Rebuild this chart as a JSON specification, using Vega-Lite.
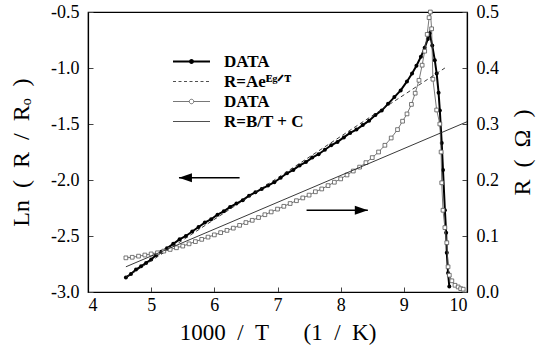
{
  "$schema": "https://vega.github.io/schema/vega-lite/v6.json",
  "width": 379,
  "height": 280,
  "autosize": {"type": "none"},
  "padding": {"left": 88, "top": 12, "right": 81, "bottom": 66},
  "background": "white",
  "config": {
    "font": "Liberation Serif",
    "view": {"stroke": "#000", "strokeWidth": 1.2},
    "axis": {
      "grid": false,
      "domainColor": "#000",
      "domainWidth": 1.2,
      "tickColor": "#444",
      "tickSize": -5,
      "labelColor": "#000",
      "labelFont": "Liberation Serif",
      "labelFontSize": 18,
      "titleFont": "Liberation Serif",
      "titleFontWeight": "normal",
      "titleColor": "#000"
    }
  },
  "data": {
    "values": [
      {"s": "d1", "x": 4.60, "v": -2.87}, {"s": "d1", "x": 4.68, "v": -2.84}, {"s": "d1", "x": 4.76, "v": -2.80},
      {"s": "d1", "x": 4.84, "v": -2.77}, {"s": "d1", "x": 4.92, "v": -2.74}, {"s": "d1", "x": 5.00, "v": -2.71},
      {"s": "d1", "x": 5.08, "v": -2.67}, {"s": "d1", "x": 5.16, "v": -2.64}, {"s": "d1", "x": 5.25, "v": -2.61},
      {"s": "d1", "x": 5.35, "v": -2.57}, {"s": "d1", "x": 5.45, "v": -2.53}, {"s": "d1", "x": 5.55, "v": -2.50},
      {"s": "d1", "x": 5.65, "v": -2.46}, {"s": "d1", "x": 5.75, "v": -2.42}, {"s": "d1", "x": 5.85, "v": -2.38},
      {"s": "d1", "x": 5.95, "v": -2.35}, {"s": "d1", "x": 6.05, "v": -2.31}, {"s": "d1", "x": 6.15, "v": -2.28},
      {"s": "d1", "x": 6.25, "v": -2.24}, {"s": "d1", "x": 6.35, "v": -2.21}, {"s": "d1", "x": 6.45, "v": -2.18},
      {"s": "d1", "x": 6.55, "v": -2.14}, {"s": "d1", "x": 6.65, "v": -2.11}, {"s": "d1", "x": 6.75, "v": -2.08},
      {"s": "d1", "x": 6.85, "v": -2.05}, {"s": "d1", "x": 6.95, "v": -2.02}, {"s": "d1", "x": 7.05, "v": -1.98},
      {"s": "d1", "x": 7.15, "v": -1.94}, {"s": "d1", "x": 7.25, "v": -1.91}, {"s": "d1", "x": 7.35, "v": -1.87},
      {"s": "d1", "x": 7.45, "v": -1.84}, {"s": "d1", "x": 7.55, "v": -1.80}, {"s": "d1", "x": 7.65, "v": -1.77},
      {"s": "d1", "x": 7.75, "v": -1.73}, {"s": "d1", "x": 7.85, "v": -1.69}, {"s": "d1", "x": 7.95, "v": -1.66},
      {"s": "d1", "x": 8.05, "v": -1.62}, {"s": "d1", "x": 8.15, "v": -1.58}, {"s": "d1", "x": 8.25, "v": -1.55},
      {"s": "d1", "x": 8.35, "v": -1.51}, {"s": "d1", "x": 8.45, "v": -1.47}, {"s": "d1", "x": 8.55, "v": -1.42},
      {"s": "d1", "x": 8.65, "v": -1.38}, {"s": "d1", "x": 8.75, "v": -1.32}, {"s": "d1", "x": 8.85, "v": -1.26},
      {"s": "d1", "x": 8.95, "v": -1.20}, {"s": "d1", "x": 9.05, "v": -1.12}, {"s": "d1", "x": 9.13, "v": -1.05},
      {"s": "d1", "x": 9.20, "v": -0.98}, {"s": "d1", "x": 9.27, "v": -0.90}, {"s": "d1", "x": 9.33, "v": -0.82},
      {"s": "d1", "x": 9.38, "v": -0.74}, {"s": "d1", "x": 9.41, "v": -0.69}, {"s": "d1", "x": 9.45, "v": -0.80},
      {"s": "d1", "x": 9.49, "v": -0.93}, {"s": "d1", "x": 9.52, "v": -1.05}, {"s": "d1", "x": 9.55, "v": -1.22},
      {"s": "d1", "x": 9.57, "v": -1.38}, {"s": "d1", "x": 9.60, "v": -1.67}, {"s": "d1", "x": 9.62, "v": -1.91},
      {"s": "d1", "x": 9.65, "v": -2.27}, {"s": "d1", "x": 9.67, "v": -2.47}, {"s": "d1", "x": 9.68, "v": -2.65},
      {"s": "d1", "x": 9.70, "v": -2.83}, {"s": "d1", "x": 9.72, "v": -2.95},
      {"s": "f1", "x": 4.60, "v": -2.87}, {"s": "f1", "x": 9.65, "v": -1.00},
      {"s": "d2", "x": 4.60, "v": 0.061}, {"s": "d2", "x": 4.70, "v": 0.062}, {"s": "d2", "x": 4.80, "v": 0.064},
      {"s": "d2", "x": 4.90, "v": 0.066}, {"s": "d2", "x": 5.00, "v": 0.068}, {"s": "d2", "x": 5.10, "v": 0.070},
      {"s": "d2", "x": 5.20, "v": 0.073}, {"s": "d2", "x": 5.30, "v": 0.076}, {"s": "d2", "x": 5.40, "v": 0.079},
      {"s": "d2", "x": 5.50, "v": 0.082}, {"s": "d2", "x": 5.60, "v": 0.086}, {"s": "d2", "x": 5.70, "v": 0.090},
      {"s": "d2", "x": 5.80, "v": 0.094}, {"s": "d2", "x": 5.90, "v": 0.098}, {"s": "d2", "x": 6.00, "v": 0.102},
      {"s": "d2", "x": 6.10, "v": 0.106}, {"s": "d2", "x": 6.20, "v": 0.110}, {"s": "d2", "x": 6.30, "v": 0.114},
      {"s": "d2", "x": 6.40, "v": 0.119}, {"s": "d2", "x": 6.50, "v": 0.124}, {"s": "d2", "x": 6.60, "v": 0.128},
      {"s": "d2", "x": 6.70, "v": 0.133}, {"s": "d2", "x": 6.80, "v": 0.138}, {"s": "d2", "x": 6.90, "v": 0.143},
      {"s": "d2", "x": 7.00, "v": 0.148}, {"s": "d2", "x": 7.10, "v": 0.153}, {"s": "d2", "x": 7.20, "v": 0.158},
      {"s": "d2", "x": 7.30, "v": 0.163}, {"s": "d2", "x": 7.40, "v": 0.168}, {"s": "d2", "x": 7.50, "v": 0.173},
      {"s": "d2", "x": 7.60, "v": 0.179}, {"s": "d2", "x": 7.70, "v": 0.184}, {"s": "d2", "x": 7.80, "v": 0.190},
      {"s": "d2", "x": 7.90, "v": 0.196}, {"s": "d2", "x": 8.00, "v": 0.202}, {"s": "d2", "x": 8.10, "v": 0.209},
      {"s": "d2", "x": 8.20, "v": 0.216}, {"s": "d2", "x": 8.30, "v": 0.223}, {"s": "d2", "x": 8.40, "v": 0.231},
      {"s": "d2", "x": 8.50, "v": 0.240}, {"s": "d2", "x": 8.60, "v": 0.250}, {"s": "d2", "x": 8.70, "v": 0.262},
      {"s": "d2", "x": 8.80, "v": 0.275}, {"s": "d2", "x": 8.90, "v": 0.290}, {"s": "d2", "x": 8.98, "v": 0.305},
      {"s": "d2", "x": 9.05, "v": 0.318}, {"s": "d2", "x": 9.12, "v": 0.335}, {"s": "d2", "x": 9.18, "v": 0.355},
      {"s": "d2", "x": 9.24, "v": 0.378}, {"s": "d2", "x": 9.29, "v": 0.405}, {"s": "d2", "x": 9.33, "v": 0.430},
      {"s": "d2", "x": 9.37, "v": 0.460}, {"s": "d2", "x": 9.40, "v": 0.490}, {"s": "d2", "x": 9.42, "v": 0.500},
      {"s": "d2", "x": 9.44, "v": 0.470}, {"s": "d2", "x": 9.46, "v": 0.380}, {"s": "d2", "x": 9.52, "v": 0.325},
      {"s": "d2", "x": 9.57, "v": 0.300}, {"s": "d2", "x": 9.59, "v": 0.250}, {"s": "d2", "x": 9.60, "v": 0.195},
      {"s": "d2", "x": 9.62, "v": 0.146}, {"s": "d2", "x": 9.65, "v": 0.115}, {"s": "d2", "x": 9.68, "v": 0.088},
      {"s": "d2", "x": 9.70, "v": 0.045}, {"s": "d2", "x": 9.72, "v": 0.030}, {"s": "d2", "x": 9.76, "v": 0.020},
      {"s": "d2", "x": 9.81, "v": 0.012}, {"s": "d2", "x": 9.86, "v": 0.009}, {"s": "d2", "x": 9.90, "v": 0.006},
      {"s": "d2", "x": 9.94, "v": 0.005},
      {"s": "f2", "x": 4.60, "v": 0.045}, {"s": "f2", "x": 10.0, "v": 0.304},
      {"s": "aL", "x": 5.44, "x2": 6.40, "v": -1.98},
      {"s": "aR", "x": 8.43, "x2": 7.46, "v": 0.146}
    ]
  },
  "encoding": {
    "x": {
      "field": "x",
      "type": "quantitative",
      "scale": {"domain": [4, 10], "nice": false, "zero": false},
      "axis": {
        "values": [4, 5, 6, 7, 8, 9, 10],
        "format": "d",
        "labelFont": "Liberation Serif",
        "labelPadding": 9,
        "title": "1000\u2002/\u2002T\u2003\u2002(1\u2002/\u2002K)",
        "titleFontSize": 23,
        "titlePadding": 7
      }
    }
  },
  "layer": [
    {
      "encoding": {
        "y": {
          "field": "v",
          "type": "quantitative",
          "scale": {"domain": [-3, -0.5], "nice": false, "zero": false},
          "axis": {
            "orient": "left",
            "values": [-3, -2.5, -2, -1.5, -1, -0.5],
            "labelExpr": "replace(format(datum.value, '.1f'), '\u2212', '-')",
            "labelFont": "Liberation Serif",
            "labelPadding": 14,
            "title": "Ln\u2002(\u2002R\u2002/\u2002R\u2092\u2002)",
            "titleFontSize": 24,
            "titlePadding": 17
          }
        }
      },
      "layer": [
        {
          "transform": [{"filter": "datum.s == 'd1'"}],
          "mark": {"type": "line", "strokeWidth": 2},
          "encoding": {
            "color": {
              "field": "s", "type": "nominal",
              "scale": {"domain": ["d1", "f1", "d2", "f2"], "range": ["#000", "#222", "#555", "#222"]},
              "legend": {
                "orient": "none", "legendX": 95, "legendY": 41, "padding": 0,
                "title": null, "symbolSize": 100, "labelOffset": 24, "rowPadding": 2,
                "labelFont": "Liberation Serif",
                "labelFontSize": 17, "labelFontWeight": "bold", "labelColor": "#000", "labelLimit": 300,
                "labelExpr": "datum.value == 'd1' || datum.value == 'd2' ? 'DATA' : datum.value == 'f1' ? 'R=Ae\u1d31\u1d4d\u141f\u1d40' : 'R=B/T + C'",
                "encode": {
                  "symbols": {
                    "update": {
                      "shape": {"signal": "datum.value == 'd1' ? 'M-3.7,0H3.7M-0.3,0A0.3,0.3,0,1,1,0.3,0A0.3,0.3,0,1,1,-0.3,0Z' : datum.value == 'd2' ? 'M-3.7,0H-0.45M0.45,0H3.7M-0.45,0A0.45,0.45,0,1,1,0.45,0A0.45,0.45,0,1,1,-0.45,0Z' : 'M-3.7,0H3.7'"},
                      "fill": {"signal": "datum.value == 'd1' ? '#000' : datum.value == 'd2' ? '#fff' : 'transparent'"},
                      "stroke": {"signal": "datum.value == 'd1' ? '#000' : datum.value == 'd2' ? '#555' : '#333'"},
                      "strokeWidth": {"signal": "datum.value == 'd1' ? 2 : 0.8"},
                      "strokeDash": {"signal": "datum.value == 'f1' ? [3, 2.5] : []"},
                      "opacity": {"value": 1},
                      "fillOpacity": {"value": 1},
                      "strokeOpacity": {"value": 1}
                    }
                  }
                }
              }
            }
          }
        },
        {
          "transform": [{"filter": "datum.s == 'd1'"}],
          "mark": {"type": "point", "shape": "circle", "filled": true, "size": 16, "color": "#000", "opacity": 1}
        },
        {
          "transform": [{"filter": "datum.s == 'f1'"}],
          "mark": {"type": "line", "strokeWidth": 0.9, "strokeDash": [4, 3]},
          "encoding": {
            "color": {
              "field": "s", "type": "nominal",
              "scale": {"domain": ["d1", "f1", "d2", "f2"], "range": ["#000", "#222", "#555", "#222"]}
            }
          }
        },
        {
          "transform": [{"filter": "datum.s == 'aL'"}],
          "mark": {"type": "rule", "color": "#000", "strokeWidth": 1.5},
          "encoding": {"x2": {"field": "x2"}}
        },
        {
          "transform": [{"filter": "datum.s == 'aL'"}],
          "mark": {"type": "point", "shape": "M0,0L1,-0.35L1,0.35Z", "filled": true, "color": "#000", "size": 676, "opacity": 1}
        }
      ]
    },
    {
      "encoding": {
        "y": {
          "field": "v",
          "type": "quantitative",
          "scale": {"domain": [0, 0.5], "nice": false, "zero": false},
          "axis": {
            "orient": "right",
            "values": [0, 0.1, 0.2, 0.3, 0.4, 0.5],
            "format": ".1f",
            "labelFont": "Liberation Serif",
            "labelPadding": 14,
            "title": "R\u2002(\u2002\u03a9\u2002)",
            "titleAngle": -90,
            "titleBaseline": "top",
            "titleFontSize": 24,
            "titlePadding": 12
          }
        }
      },
      "layer": [
        {
          "transform": [{"filter": "datum.s == 'd2'"}],
          "mark": {"type": "line", "strokeWidth": 0.8},
          "encoding": {
            "color": {
              "field": "s", "type": "nominal",
              "scale": {"domain": ["d1", "f1", "d2", "f2"], "range": ["#000", "#222", "#555", "#222"]}
            }
          }
        },
        {
          "transform": [{"filter": "datum.s == 'd2'"}],
          "mark": {"type": "point", "shape": "square", "filled": false, "fill": "#fff", "fillOpacity": 1, "stroke": "#555", "strokeWidth": 0.8, "size": 14, "opacity": 1}
        },
        {
          "transform": [{"filter": "datum.s == 'f2'"}],
          "mark": {"type": "line", "strokeWidth": 0.9},
          "encoding": {
            "color": {
              "field": "s", "type": "nominal",
              "scale": {"domain": ["d1", "f1", "d2", "f2"], "range": ["#000", "#222", "#555", "#222"]}
            }
          }
        },
        {
          "transform": [{"filter": "datum.s == 'aR'"}],
          "mark": {"type": "rule", "color": "#000", "strokeWidth": 1.5},
          "encoding": {"x2": {"field": "x2"}}
        },
        {
          "transform": [{"filter": "datum.s == 'aR'"}],
          "mark": {"type": "point", "shape": "M0,0L-1,-0.35L-1,0.35Z", "filled": true, "color": "#000", "size": 676, "opacity": 1}
        }
      ]
    }
  ],
  "resolve": {"scale": {"y": "independent"}}
}
